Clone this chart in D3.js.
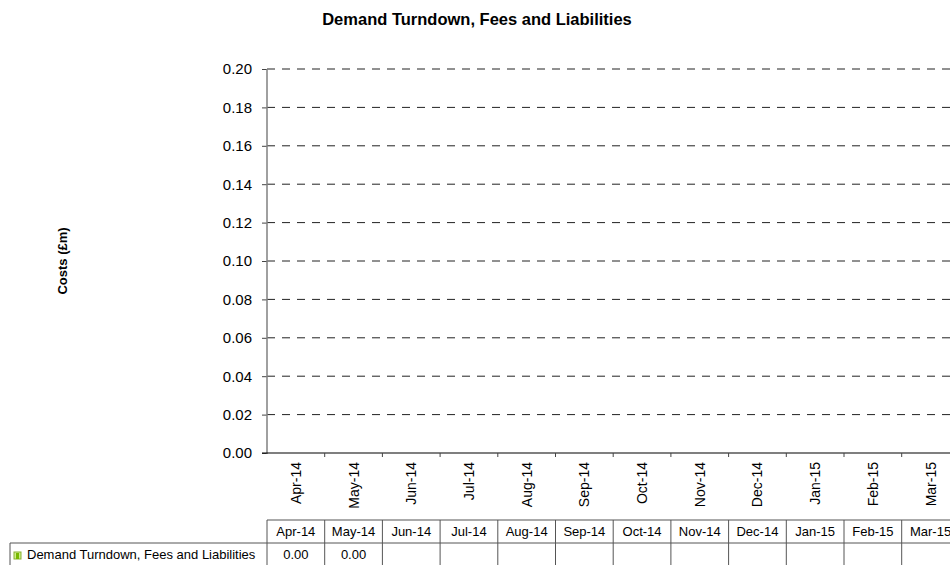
<!DOCTYPE html>
<html lang="en">
<head>
<meta charset="UTF-8" />
<script src="https://cdnjs.cloudflare.com/ajax/libs/d3/7.8.5/d3.min.js"></script>
<style>
  body { margin: 0; background: #fff; }
  svg { display: block; font-family: "Liberation Sans", Arial, Helvetica, sans-serif; }
</style>
</head>
<body>
<div class="chart"></div>
<script>
// data
const months = ['Apr-14', 'May-14', 'Jun-14', 'Jul-14', 'Aug-14', 'Sep-14',
  'Oct-14', 'Nov-14', 'Dec-14', 'Jan-15', 'Feb-15', 'Mar-15']
const seriesName = 'Demand Turndown, Fees and Liabilities'
const values = [0.00, 0.00, null, null, null, null, null, null, null, null, null, null]
const yTicks = [0, 0.02, 0.04, 0.06, 0.08, 0.10, 0.12, 0.14, 0.16, 0.18, 0.20]

const width = 950
const height = 565
const plotLeft = 267
const bandW = 57.7
const plotTop = 69
const plotBottom = 453

const svg = d3.select('.chart').append('svg')
  .attr('width', width).attr('height', height)

// title
svg.append('text')
  .attr('x', 477).attr('y', 25)
  .attr('text-anchor', 'middle')
  .style('font-size', '16.5px').style('font-weight', 'bold')
  .text('Demand Turndown, Fees and Liabilities')

// y label
svg.append('text')
  .attr('transform', 'translate(67,261) rotate(-90)')
  .attr('text-anchor', 'middle')
  .style('font-size', '13px').style('font-weight', 'bold')
  .text('Costs (£m)')

const x = d3.scaleBand().domain(months).range([plotLeft, plotLeft + bandW * months.length])
const y = d3.scaleLinear().domain([0, 0.2]).range([plotBottom, plotTop])

// grid lines
svg.append('g').selectAll('line').data(yTicks.filter(d => d > 0)).join('line')
  .attr('x1', plotLeft).attr('x2', width)
  .attr('y1', d => y(d)).attr('y2', d => y(d))
  .attr('stroke', '#222').attr('stroke-width', 1)
  .attr('stroke-dasharray', '8,7')

// y axis
const yAxis = svg.append('g')
  .attr('transform', `translate(${plotLeft},0)`)
  .call(d3.axisLeft(y).tickValues(yTicks).tickSize(5).tickPadding(10).tickFormat(d3.format('.2f')))
yAxis.select('.domain').remove()
yAxis.selectAll('.tick line').attr('stroke', '#444')
yAxis.selectAll('text').style('font-size', '15px').attr('fill', '#000')
svg.append('line')
  .attr('x1', plotLeft).attr('x2', plotLeft)
  .attr('y1', plotTop).attr('y2', plotBottom + 1)
  .attr('stroke', '#808080').attr('stroke-width', 1.5)

// bars (zero values)
svg.append('g').selectAll('rect').data(months.map((m, i) => ({ m, v: values[i] })).filter(d => d.v != null)).join('rect')
  .attr('x', d => x(d.m) + bandW * 0.15)
  .attr('width', bandW * 0.7)
  .attr('y', d => y(d.v))
  .attr('height', d => plotBottom - y(d.v))
  .attr('fill', '#99cc33')

// baseline + x ticks
svg.append('line')
  .attr('x1', plotLeft - 5).attr('x2', width)
  .attr('y1', plotBottom).attr('y2', plotBottom)
  .attr('stroke', '#000').attr('stroke-width', 1.2)
svg.append('g').selectAll('line').data(months.slice(1)).join('line')
  .attr('x1', d => x(d)).attr('x2', d => x(d))
  .attr('y1', plotBottom).attr('y2', plotBottom + 4)
  .attr('stroke', '#444')

// rotated month labels
svg.append('g').selectAll('text').data(months).join('text')
  .attr('transform', d => `translate(${x(d) + bandW / 2 + 5},462) rotate(-90)`)
  .attr('text-anchor', 'end')
  .style('font-size', '14px')
  .text(d => d)

// data table
const hTop = 520, rowH = 23
const tbl = svg.append('g')
tbl.selectAll('text.h').data(months).join('text')
  .attr('class', 'h')
  .attr('x', d => x(d) + bandW / 2).attr('y', hTop + 16)
  .attr('text-anchor', 'middle')
  .style('font-size', '13px')
  .text(d => d)
tbl.selectAll('text.v').data(months.map((m, i) => ({ m, v: values[i] })).filter(d => d.v != null)).join('text')
  .attr('class', 'v')
  .attr('x', d => x(d.m) + bandW / 2).attr('y', hTop + rowH + 16)
  .attr('text-anchor', 'middle')
  .style('font-size', '13px')
  .text(d => d.v.toFixed(2))
tbl.append('text')
  .attr('x', 27).attr('y', hTop + rowH + 16)
  .style('font-size', '13px')
  .text(seriesName)
tbl.append('rect').attr('x', 14).attr('y', hTop + rowH + 9).attr('width', 7).attr('height', 7)
  .attr('fill', '#ccee88').attr('stroke', '#88b030').attr('stroke-width', 1)
tbl.append('rect').attr('x', 16).attr('y', hTop + rowH + 10).attr('width', 3).attr('height', 6)
  .attr('fill', '#77b800')

const gridC = '#555'
tbl.append('line').attr('x1', plotLeft).attr('x2', width).attr('y1', hTop).attr('y2', hTop).attr('stroke', gridC)
tbl.append('line').attr('x1', 10).attr('x2', width).attr('y1', hTop + rowH).attr('y2', hTop + rowH).attr('stroke', gridC)
tbl.append('line').attr('x1', 10).attr('x2', 10).attr('y1', hTop + rowH).attr('y2', height).attr('stroke', gridC)
tbl.append('line').attr('x1', plotLeft).attr('x2', plotLeft).attr('y1', hTop).attr('y2', height).attr('stroke', gridC)
tbl.selectAll('line.c').data(months.slice(1)).join('line')
  .attr('class', 'c')
  .attr('x1', d => x(d)).attr('x2', d => x(d))
  .attr('y1', hTop).attr('y2', height)
  .attr('stroke', gridC)
</script>
</body>
</html>
